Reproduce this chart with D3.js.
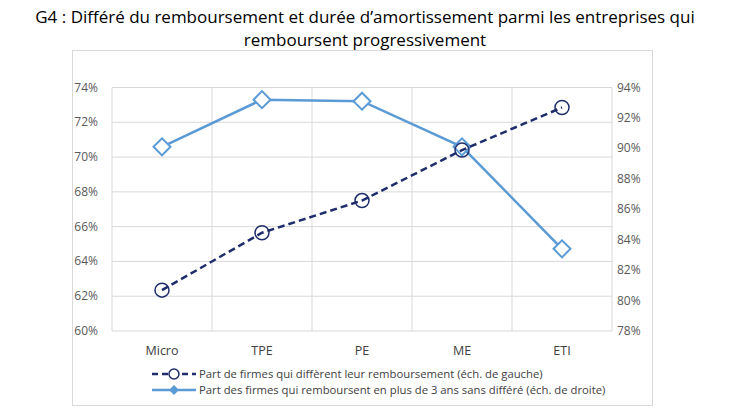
<!DOCTYPE html>
<html><head><meta charset="utf-8">
<script src="https://cdn.jsdelivr.net/npm/d3@7"></script>
<style>body{margin:0;background:#fff}</style></head>
<body><svg id="c" width="730" height="410"></svg>
<script>
const categories=["Micro","TPE","PE","ME","ETI"];
const leftValues=[62.35,65.65,67.5,70.4,72.85];
const rightValues=[90.1,93.2,93.1,90.1,83.4];
const leftTicks=[60,62,64,66,68,70,72,74];
const rightTicks=[78,80,82,84,86,88,90,92,94];
const seriesNames=["Part de firmes qui diffèrent leur remboursement (éch. de gauche)","Part des firmes qui remboursent en plus de 3 ans sans différé (éch. de droite)"];
const svg=d3.select("#c");
const font="'Open Sans', sans-serif";
const L=112,R=612,T=87.5,B=331;
const x=d3.scaleBand().domain(categories).range([L,R]);
const yl=d3.scaleLinear().domain([60,74]).range([B,T]);
const yr=d3.scaleLinear().domain([78,94]).range([B,T]);
svg.append("rect").attr("x",72.5).attr("y",50.5).attr("width",580).attr("height",355).attr("fill","none").attr("stroke","#d9d9d9");
svg.append("text").attr("x",365).attr("y",23).attr("text-anchor","middle").attr("font-family",font).attr("font-size",17).text("G4 : Différé du remboursement et durée d’amortissement parmi les entreprises qui");
svg.append("text").attr("x",365).attr("y",46).attr("text-anchor","middle").attr("font-family",font).attr("font-size",17).text("remboursent progressivement");
const g=svg.append("g");
leftTicks.forEach(t=>g.append("line").attr("x1",L).attr("x2",R).attr("y1",yl(t)).attr("y2",yl(t)).attr("stroke","#d9d9d9"));
categories.concat([null]).forEach((c,i)=>{const xx=L+i*x.bandwidth();g.append("line").attr("x1",xx).attr("x2",xx).attr("y1",T).attr("y2",B).attr("stroke","#d9d9d9");});
leftTicks.forEach(t=>g.append("text").attr("x",98).attr("y",yl(t)+4).attr("text-anchor","end").attr("font-family",font).attr("font-size",12).attr("fill","#595959").text(t+"%"));
rightTicks.forEach(t=>g.append("text").attr("x",617).attr("y",yr(t)+4).attr("font-family",font).attr("font-size",12).attr("fill","#595959").text(t+"%"));
categories.forEach(c=>g.append("text").attr("x",x(c)+x.bandwidth()/2).attr("y",355).attr("text-anchor","middle").attr("font-family",font).attr("font-size",12.5).attr("fill","#404040").text(c));
const cx=c=>x(c)+x.bandwidth()/2;
const lineR=d3.line().x((d,i)=>cx(categories[i])).y(d=>yr(d));
const lineL=d3.line().x((d,i)=>cx(categories[i])).y(d=>yl(d));
const light="#5b9bd5",dark="#1f2d6b";
g.append("path").attr("d",lineR(rightValues)).attr("fill","none").attr("stroke",light).attr("stroke-width",2.5);
rightValues.forEach((v,i)=>g.append("rect").attr("x",-6).attr("y",-6).attr("width",12).attr("height",12).attr("transform",`translate(${cx(categories[i])},${yr(v)}) rotate(45)`).attr("fill","#fff").attr("stroke",light).attr("stroke-width",2));
g.append("path").attr("d",lineL(leftValues)).attr("fill","none").attr("stroke",dark).attr("stroke-width",2.5).attr("stroke-dasharray","7,4");
leftValues.forEach((v,i)=>g.append("circle").attr("cx",cx(categories[i])).attr("cy",yl(v)).attr("r",7).attr("fill","none").attr("stroke",dark).attr("stroke-width",1.5));
// legend
const ly1=374,ly2=390,lx=152;
const lf={size:11.3};
g.append("line").attr("x1",lx).attr("x2",lx+44).attr("y1",ly1).attr("y2",ly1).attr("stroke",dark).attr("stroke-width",2.5).attr("stroke-dasharray","6,4");
g.append("circle").attr("cx",lx+22).attr("cy",ly1).attr("r",5).attr("fill","#fff").attr("stroke",dark).attr("stroke-width",1.5);
g.append("text").attr("x",lx+47).attr("y",ly1+4).attr("font-family",font).attr("font-size",lf.size).attr("fill","#404040").text(seriesNames[0]);
g.append("line").attr("x1",lx).attr("x2",lx+44).attr("y1",ly2).attr("y2",ly2).attr("stroke",light).attr("stroke-width",2.5);
g.append("rect").attr("x",-3.5).attr("y",-3.5).attr("width",7).attr("height",7).attr("transform",`translate(${lx+22},${ly2}) rotate(45)`).attr("fill",light);
g.append("text").attr("x",lx+47).attr("y",ly2+4).attr("font-family",font).attr("font-size",lf.size).attr("fill","#404040").text(seriesNames[1]);
</script></body></html>
